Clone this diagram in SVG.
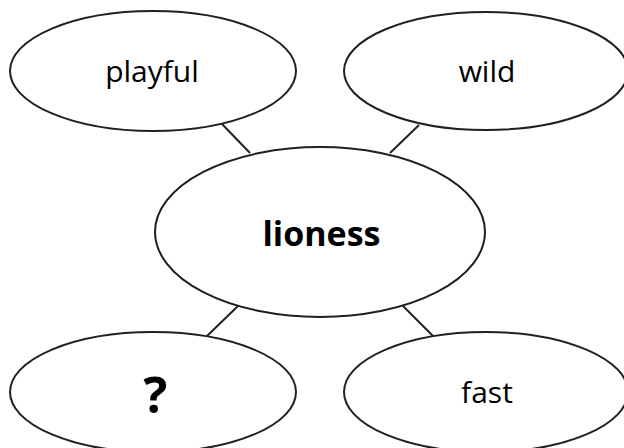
<svg xmlns="http://www.w3.org/2000/svg" width="624" height="448" viewBox="0 0 624 448">
<style>
.n ellipse{fill:#fff;stroke:#231f20;stroke-width:2}
.c line{stroke:#231f20;stroke-width:2}
text{font-family:"Open Sans","Noto Sans",sans-serif;fill:#000;text-anchor:middle}
.r{font-size:30px}
.b{font-size:34px;font-weight:bold}
.q{font-size:50px;font-weight:bold}
</style>
<rect width="624" height="448" fill="#fff"/>
<g class="c" id="connectors">
<line x1="222" y1="124" x2="250" y2="153"/>
<line x1="419" y1="125" x2="390" y2="153"/>
<line x1="238" y1="306" x2="207" y2="336"/>
<line x1="403" y1="306" x2="433" y2="336"/>
</g>
<g class="n" id="playful"><ellipse cx="153" cy="71" rx="143" ry="60"/><text class="r" x="152" y="82">playful</text></g>
<g class="n" id="wild"><ellipse cx="486" cy="71" rx="142" ry="59"/><text class="r" x="487" y="82">wild</text></g>
<g class="n" id="lioness"><ellipse cx="320" cy="232" rx="165" ry="85"/><text class="b" x="321.5" y="246">lioness</text></g>
<g class="n" id="unknown"><ellipse cx="153" cy="392" rx="143" ry="60"/><text class="q" x="155.5" y="413">?</text></g>
<g class="n" id="fast"><ellipse cx="486" cy="392" rx="142" ry="60"/><text class="r" x="487" y="403">fast</text></g>
</svg>
